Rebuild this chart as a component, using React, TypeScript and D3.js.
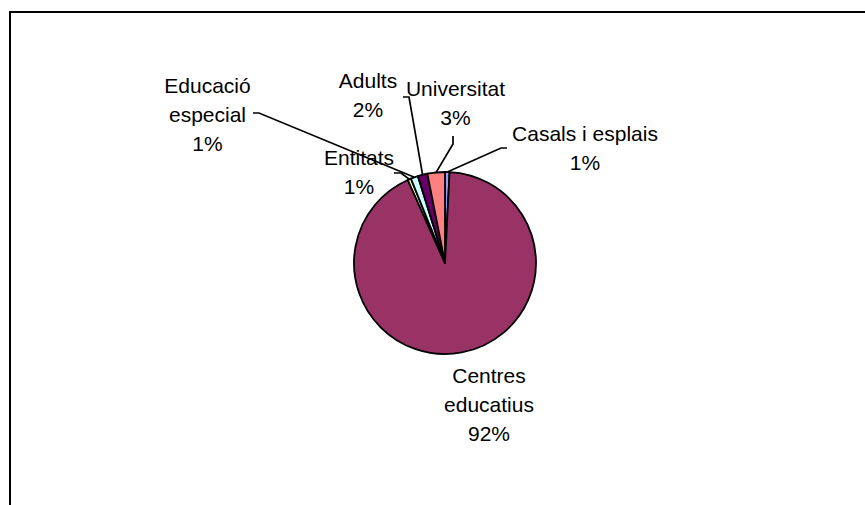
import React from 'react';
import * as d3 from 'd3';

// ---- data ----
const categories = ['Casals i esplais', 'Centres educatius', 'Entitats', 'Educació especial', 'Adults', 'Universitat'];
const values = [8, 923, 6, 13, 17, 31];
const colors = ['#9999FF', '#993366', '#FFFFCC', '#CCFFFF', '#660066', '#FF8080'];
const labelLines = [['Casals i esplais'], ['Centres', 'educatius'], ['Entitats'], ['Educació', 'especial'], ['Adults'], ['Universitat']];

// ---- layout ----
const W = 865, H = 505;
const cx = 445, cy = 263, R = 91;
const FONT = 21, LINE = 29;
const labelLayout: { x: number; y: number; leader: [number, number][] | null }[] = [
  { x: 585, y: 141, leader: [[507, 148], [501, 148]] },
  { x: 489, y: 383, leader: null },
  { x: 359, y: 165, leader: [[394, 173], [401, 173]] },
  { x: 207.5, y: 93, leader: [[253, 113], [259, 113]] },
  { x: 368, y: 88, leader: [[403, 97], [409, 97]] },
  { x: 455.5, y: 96, leader: [[453, 136], [453, 144]] },
];

export default function App() {
  const total = d3.sum(values);
  const arcs = d3.pie<number>().sort(null).value((d) => d)(values);
  const arcGen = d3.arc<d3.PieArcDatum<number>>().innerRadius(0).outerRadius(R);
  const edgeGen = d3.arc<d3.PieArcDatum<number>>().innerRadius(R).outerRadius(R);
  const line = d3.line();

  return (
    <svg width={W} height={H} style={{ position: 'absolute', left: 0, top: 0, background: '#fff' }}
      fontFamily="'Liberation Sans', Arial, sans-serif" fontSize={FONT}>
      <rect x={10} y={12} width={W + 50} height={H + 50} fill="none" stroke="#000" strokeWidth={2} />
      <g transform={`translate(${cx},${cy})`}>
        {arcs.map((a, i) => (
          <path key={i} d={arcGen(a) || ''} fill={colors[i]} stroke="#000" strokeWidth={1.8} strokeLinejoin="round" />
        ))}
      </g>
      {arcs.map((a, i) => {
        const lay = labelLayout[i];
        if (!lay.leader) return null;
        const [ex, ey] = edgeGen.centroid(a);
        const pts: [number, number][] = [...lay.leader, [cx + ex, cy + ey]];
        return <path key={'l' + i} d={line(pts) || ''} fill="none" stroke="#000" strokeWidth={1.7} />;
      })}
      {categories.map((c, i) => {
        const lay = labelLayout[i];
        const lines = [...labelLines[i], `${Math.round((values[i] / total) * 100)}%`];
        return (
          <text key={'t' + i} x={lay.x} y={lay.y} textAnchor="middle" fill="#000">
            {lines.map((t, j) => (
              <tspan key={j} x={lay.x} y={lay.y + j * LINE}>{t}</tspan>
            ))}
          </text>
        );
      })}
    </svg>
  );
}
